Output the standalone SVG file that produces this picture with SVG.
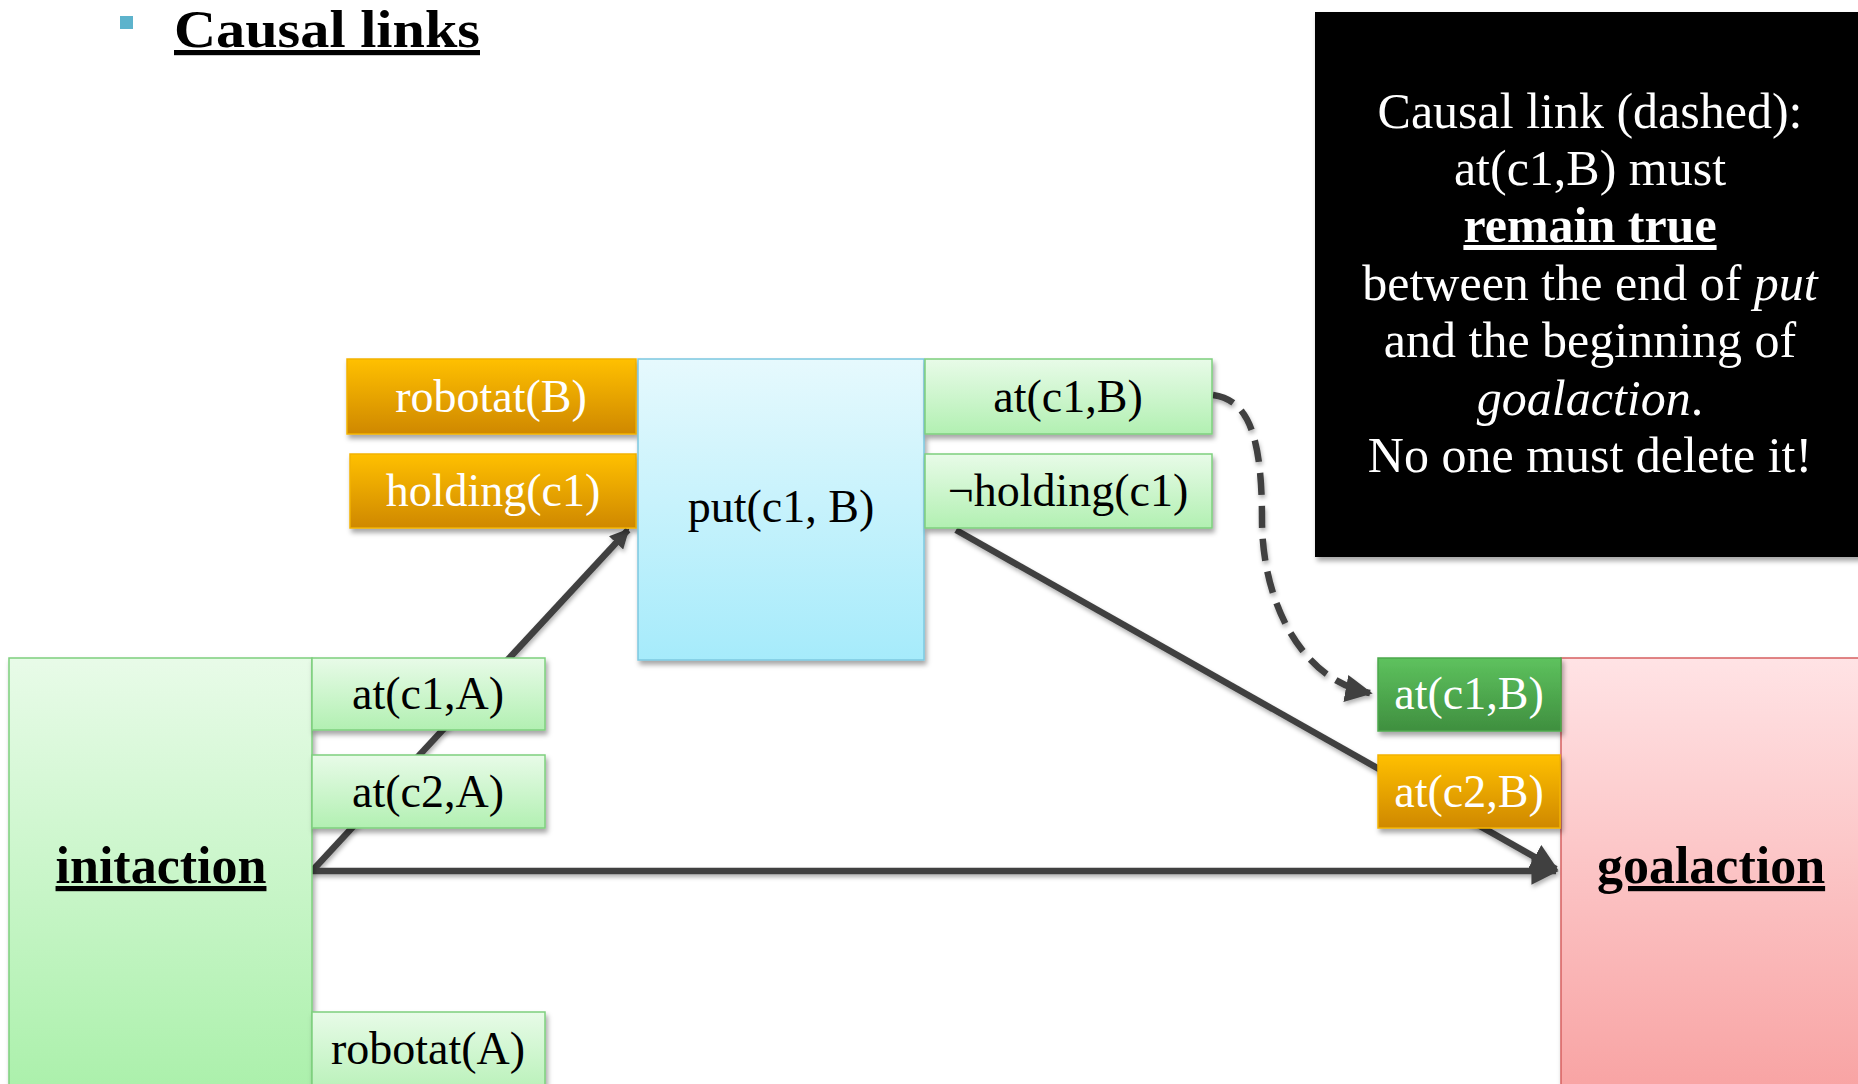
<svg xmlns="http://www.w3.org/2000/svg" width="1858" height="1084" viewBox="0 0 1858 1084">
<defs>
<linearGradient id="gLight" x1="0" y1="0" x2="0" y2="1"><stop offset="0" stop-color="#E8FBE8"/><stop offset="1" stop-color="#B2F0B2"/></linearGradient>
<linearGradient id="gInit" x1="0" y1="0" x2="0" y2="1"><stop offset="0" stop-color="#E8FBE8"/><stop offset="1" stop-color="#AAF0AA"/></linearGradient>
<linearGradient id="gDark" x1="0" y1="0" x2="0" y2="1"><stop offset="0" stop-color="#5EC25E"/><stop offset="1" stop-color="#3F8F3F"/></linearGradient>
<linearGradient id="gOrange" x1="0" y1="0" x2="0" y2="1"><stop offset="0" stop-color="#FFC000"/><stop offset="1" stop-color="#CF8800"/></linearGradient>
<linearGradient id="gBlue" x1="0" y1="0" x2="0" y2="1"><stop offset="0" stop-color="#E6F9FD"/><stop offset="1" stop-color="#A6EBFB"/></linearGradient>
<linearGradient id="gPink" x1="0" y1="0" x2="0" y2="1"><stop offset="0" stop-color="#FFE3E5"/><stop offset="1" stop-color="#F8A2A2"/></linearGradient>
<filter id="sh" x="-10%" y="-10%" width="130%" height="130%"><feDropShadow dx="2" dy="4" stdDeviation="2.5" flood-color="#000" flood-opacity="0.35"/></filter>
<filter id="shL" filterUnits="userSpaceOnUse" x="0" y="0" width="1858" height="1084"><feDropShadow dx="1" dy="3" stdDeviation="2" flood-color="#000" flood-opacity="0.3"/></filter>
<marker id="arr" viewBox="0 0 10 10" refX="9" refY="5" markerWidth="4.2" markerHeight="4.2" orient="auto" markerUnits="strokeWidth"><path d="M0,0 L10,5 L0,10 z" fill="#404040"/></marker>
<marker id="arrS" viewBox="0 0 10 10" refX="9" refY="5" markerWidth="3" markerHeight="3" orient="auto" markerUnits="strokeWidth"><path d="M0,0 L10,5 L0,10 z" fill="#404040"/></marker>
</defs>
<style>
.lbl{font-family:"Liberation Serif",serif;font-size:46px;text-anchor:middle;fill:#000}
.wl{fill:#fff}
.bt{font-family:"Liberation Serif",serif;font-size:52px;font-weight:bold;text-decoration:underline;text-anchor:middle;fill:#000}
.light{fill:url(#gLight);stroke:#7ED07E;stroke-width:1.5}
.orange{fill:url(#gOrange);stroke:#F2B300;stroke-width:1.5}
.dark{fill:url(#gDark);stroke:#4CA84C;stroke-width:1.5}
.conn{stroke:#404040;stroke-width:6.5;fill:none}
.note{font-family:"Liberation Serif",serif;font-size:50px;fill:#fff;text-anchor:middle}
</style>
<rect width="1858" height="1084" fill="#fff"/>

<g id="title">
<rect x="120" y="16" width="13" height="13" fill="#5DB3CC"/>
<text x="174" y="47" font-family="Liberation Serif,serif" font-size="52" font-weight="bold" text-decoration="underline" fill="#000" textLength="306" lengthAdjust="spacingAndGlyphs">Causal links</text>
</g>

<g id="connectors" filter="url(#shL)">
<line class="conn" x1="312" y1="871" x2="628" y2="530" marker-end="url(#arrS)"/>
<line class="conn" x1="956" y1="530" x2="1556" y2="869" marker-end="url(#arr)"/>
<line class="conn" x1="312" y1="871" x2="1556" y2="871" marker-end="url(#arr)"/>
<path class="conn" d="M1213,395 C1250,400 1262,440 1262,520 C1262,600 1300,680 1370,693" stroke-width="7" stroke-dasharray="22 11" marker-end="url(#arr)"/>
</g>

<g id="note">
<rect x="1315" y="12" width="560" height="545" fill="#000" filter="url(#sh)"/>
<text class="note" x="1590" y="128">Causal link (dashed):</text>
<text class="note" x="1590" y="185">at(c1,B) must</text>
<text class="note" x="1590" y="242" font-weight="bold" text-decoration="underline">remain true</text>
<text class="note" x="1590" y="300">between the end of <tspan font-style="italic">put</tspan></text>
<text class="note" x="1590" y="357">and the beginning of</text>
<text class="note" x="1590" y="415"><tspan font-style="italic">goalaction</tspan>.</text>
<text class="note" x="1590" y="472">No one must delete it!</text>
</g>

<g id="robotat-B"><rect class="orange" x="347" y="359" width="289" height="75" filter="url(#sh)"/><text class="lbl wl" x="491" y="412">robotat(B)</text></g>
<g id="holding-c1"><rect class="orange" x="350" y="454" width="286" height="74" filter="url(#sh)"/><text class="lbl wl" x="493" y="506">holding(c1)</text></g>
<g id="put"><rect x="638" y="359" width="286" height="301" fill="url(#gBlue)" stroke="#7CC8E0" stroke-width="1.5" filter="url(#sh)"/><text class="lbl" x="781" y="522" font-size="43">put(c1, B)</text></g>
<g id="at-c1-B-eff"><rect class="light" x="925" y="359" width="287" height="75" filter="url(#sh)"/><text class="lbl" x="1068" y="412">at(c1,B)</text></g>
<g id="not-holding-c1"><rect class="light" x="925" y="454" width="287" height="74" filter="url(#sh)"/><text class="lbl" x="1068" y="506">¬holding(c1)</text></g>

<g id="initaction"><rect x="9" y="658" width="303" height="440" fill="url(#gInit)" stroke="#7ED07E" stroke-width="1.5" filter="url(#sh)"/><text class="bt" x="161" y="883">initaction</text></g>
<g id="at-c1-A"><rect class="light" x="312" y="658" width="233" height="72" filter="url(#sh)"/><text class="lbl" x="428" y="709">at(c1,A)</text></g>
<g id="at-c2-A"><rect class="light" x="312" y="755" width="233" height="73" filter="url(#sh)"/><text class="lbl" x="428" y="807">at(c2,A)</text></g>
<g id="robotat-A"><rect class="light" x="312" y="1012" width="233" height="90" filter="url(#sh)"/><text class="lbl" x="428" y="1064">robotat(A)</text></g>

<g id="goalaction"><rect x="1561" y="658" width="310" height="440" fill="url(#gPink)" stroke="#D66060" stroke-width="1.5" filter="url(#sh)"/><text class="bt" x="1711" y="883">goalaction</text></g>
<g id="at-c1-B-pre"><rect class="dark" x="1378" y="658" width="183" height="73" filter="url(#sh)"/><text class="lbl wl" x="1469" y="709">at(c1,B)</text></g>
<g id="at-c2-B-pre"><rect class="orange" x="1378" y="755" width="182" height="73" filter="url(#sh)"/><text class="lbl wl" x="1469" y="807">at(c2,B)</text></g>
</svg>
